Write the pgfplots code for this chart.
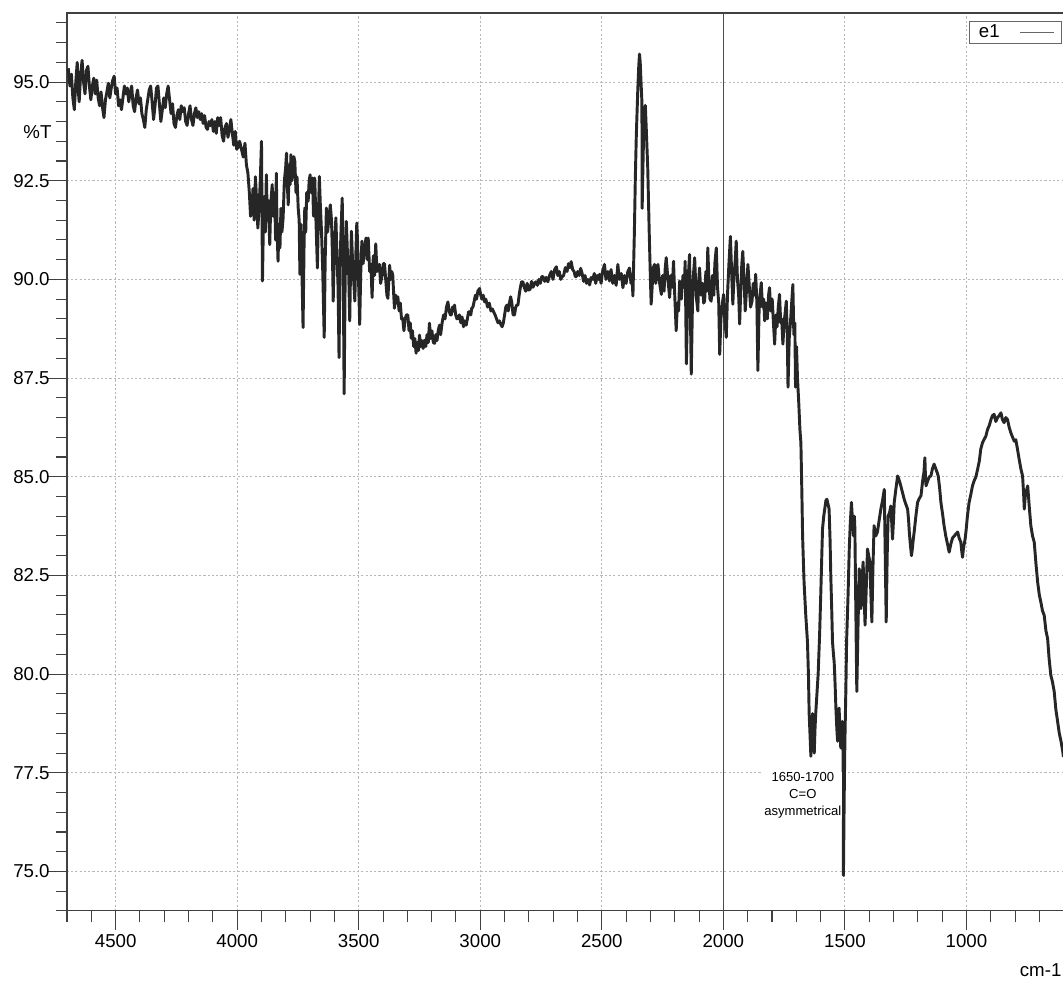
\documentclass[border=0pt]{standalone}
\usepackage{fontspec}
\setmainfont{Liberation Sans}
\usepackage{pgfplots}
\usepackage{pgfplotstable}
\pgfplotsset{compat=1.18}
\usetikzlibrary{calc}

\pgfplotstableread{
x y
4695 95.35
4688 94.90
4682 95.20
4676 94.60
4670 94.30
4664 95.00
4658 95.50
4654 94.80
4650 94.50
4644 95.20
4638 95.55
4632 95.00
4626 94.70
4620 95.30
4614 95.40
4608 94.90
4602 94.55
4596 94.90
4590 95.10
4584 94.70
4578 95.05
4572 94.60
4566 94.40
4560 94.75
4554 94.35
4548 94.10
4542 94.55
4536 94.75
4530 94.97
4524 94.60
4518 94.85
4512 95.05
4506 95.15
4500 94.70
4494 94.85
4488 94.40
4482 94.55
4476 94.30
4470 94.60
4464 94.90
4458 94.70
4452 94.85
4446 94.50
4440 94.75
4434 94.90
4428 94.40
4422 94.25
4416 94.60
4410 94.80
4404 94.45
4398 94.60
4392 94.20
4386 94.05
4380 93.85
4374 94.30
4368 94.55
4362 94.80
4356 94.90
4350 94.50
4344 94.05
4338 94.40
4332 94.85
4326 94.90
4320 94.45
4314 94.00
4308 94.30
4302 94.60
4296 94.35
4290 94.70
4284 94.90
4278 94.55
4272 94.20
4266 94.45
4260 93.95
4254 93.85
4248 94.15
4242 94.30
4236 94.05
4230 94.40
4224 94.25
4218 94.35
4212 94.00
4206 93.90
4200 94.20
4194 94.40
4188 94.05
4182 93.90
4176 94.20
4170 94.35
4164 94.10
4158 94.25
4152 94.05
4146 94.20
4140 93.95
4134 94.15
4128 93.85
4122 93.80
4116 94.00
4110 93.90
4104 94.05
4098 93.75
4092 94.00
4086 93.70
4080 94.10
4074 93.90
4068 94.10
4062 93.65
4056 93.50
4050 93.85
4044 93.95
4038 93.60
4032 93.80
4026 94.05
4020 93.70
4014 93.40
4008 93.75
4002 93.30
3996 93.35
3990 93.50
3975 93.10
3968 93.45
3962 92.90
3956 92.70
3950 92.20
3945 91.60
3940 91.70
3935 92.30
3930 91.50
3925 92.60
3920 92.00
3915 91.30
3910 91.80
3905 92.50
3900 93.50
3896 89.96
3892 91.50
3888 92.10
3884 91.20
3880 92.65
3876 91.50
3872 92.00
3866 90.88
3862 91.90
3856 92.40
3852 91.60
3846 92.20
3842 91.00
3839 92.69
3836 91.30
3832 90.46
3828 91.40
3824 90.80
3820 91.80
3816 91.20
3811 91.56
3806 92.50
3801 92.80
3797 93.20
3793 92.30
3790 91.89
3786 92.90
3782 92.40
3779 93.16
3775 92.50
3770 92.80
3767 93.11
3763 93.00
3758 92.20
3754 92.60
3749 91.81
3745 91.50
3742 90.13
3738 91.40
3734 90.30
3729 88.78
3725 90.80
3722 91.81
3718 91.20
3714 92.20
3708 91.98
3704 92.50
3700 92.65
3695 92.20
3690 92.57
3686 91.60
3681 92.57
3676 91.50
3670 90.29
3666 91.60
3662 92.61
3658 91.90
3653 91.20
3648 90.20
3642 88.53
3638 90.50
3633 91.81
3628 91.20
3622 91.60
3617 91.89
3612 91.50
3608 90.60
3605 89.45
3600 90.80
3594 91.56
3590 90.70
3585 89.80
3581 88.02
3577 90.40
3573 91.20
3568 92.06
3564 90.50
3560 87.10
3556 89.90
3551 91.47
3546 90.60
3541 90.10
3537 88.95
3533 90.50
3530 91.22
3525 90.40
3520 89.90
3516 89.45
3512 90.60
3508 91.43
3505 91.00
3500 89.80
3496 88.86
3492 90.10
3487 90.97
3482 90.40
3476 90.80
3470 91.05
3465 90.50
3461 91.05
3455 90.20
3450 90.38
3445 89.54
3440 90.60
3435 90.10
3430 90.90
3425 90.20
3415 90.38
3410 89.90
3404 90.10
3399 90.40
3394 90.40
3389 90.00
3384 89.60
3380 89.52
3376 90.00
3373 90.36
3368 90.00
3364 90.20
3360 90.11
3356 89.60
3353 89.27
3348 89.60
3343 89.40
3339 89.56
3334 89.20
3329 89.40
3324 89.00
3319 89.01
3314 88.70
3309 89.00
3304 89.10
3298 89.10
3293 88.70
3288 88.90
3284 88.51
3279 88.70
3274 88.30
3269 88.50
3264 88.13
3259 88.40
3254 88.20
3250 88.59
3245 88.30
3240 88.45
3235 88.25
3229 88.46
3224 88.30
3219 88.60
3214 88.40
3209 88.89
3204 88.50
3199 88.70
3193 88.40
3188 88.38
3183 88.60
3178 88.45
3173 88.70
3168 88.84
3163 88.60
3157 88.90
3151 89.10
3145 89.00
3139 89.30
3133 89.43
3128 89.20
3123 89.10
3119 89.10
3114 89.30
3110 89.20
3106 89.35
3101 89.10
3096 89.00
3092 89.01
3086 89.10
3080 88.90
3075 89.05
3069 88.80
3064 88.95
3058 88.84
3053 89.00
3048 89.18
3044 89.18
3039 89.10
3035 89.27
3030 89.30
3025 89.45
3020 89.60
3015 89.50
3010 89.70
3003 89.77
2998 89.60
2993 89.50
2988 89.60
2982 89.43
2977 89.50
2970 89.30
2963 89.40
2956 89.20
2950 89.25
2945 89.18
2939 89.10
2933 89.00
2927 88.90
2921 88.95
2915 88.85
2910 88.80
2905 88.90
2900 89.10
2895 89.30
2890 89.35
2885 89.20
2880 89.40
2875 89.56
2870 89.40
2865 89.10
2859 89.10
2854 89.30
2850 89.35
2845 89.35
2840 89.60
2835 89.80
2830 89.94
2825 89.94
2819 89.80
2813 89.70
2807 89.90
2801 89.73
2795 89.75
2789 89.95
2783 89.80
2777 89.90
2771 89.94
2765 89.85
2759 90.00
2753 89.90
2747 90.07
2742 90.07
2735 89.95
2729 90.05
2722 89.94
2715 90.10
2708 90.20
2701 90.00
2694 90.25
2687 90.32
2681 90.10
2675 90.20
2669 90.00
2663 90.07
2657 90.10
2650 90.30
2643 90.20
2637 90.40
2631 90.30
2626 90.45
2620 90.25
2614 90.20
2609 90.07
2605 90.07
2599 90.20
2593 90.10
2587 90.28
2581 90.15
2575 89.95
2569 90.10
2563 89.90
2557 90.00
2550 89.86
2544 90.05
2537 90.00
2531 90.15
2525 89.90
2519 90.10
2513 90.00
2509 90.13
2503 89.90
2497 90.20
2489 90.38
2483 90.00
2475 90.20
2468 89.96
2462 90.25
2455 89.90
2448 90.10
2441 89.85
2434 90.38
2428 90.00
2420 90.15
2413 89.79
2407 90.10
2400 89.90
2393 90.20
2386 90.29
2380 89.90
2376 90.10
2372 89.58
2366 91.20
2362 92.60
2358 93.66
2352 94.80
2348 95.40
2345 95.71
2342 95.50
2338 94.90
2335 94.50
2334 91.80
2331 92.80
2327 94.00
2321 94.41
2317 93.80
2311 92.82
2305 91.20
2300 90.00
2297 89.37
2293 89.80
2288 90.30
2283 90.38
2278 89.90
2273 90.20
2269 90.38
2262 89.90
2255 89.62
2250 90.10
2244 89.70
2239 90.30
2235 90.55
2228 90.00
2221 89.54
2216 90.10
2210 89.80
2205 90.46
2200 89.60
2194 88.70
2189 89.40
2184 89.20
2180 89.96
2173 89.50
2166 90.10
2161 89.80
2157 90.46
2152 87.86
2147 89.50
2143 90.20
2139 90.63
2132 87.60
2126 89.80
2122 90.20
2118 90.55
2112 89.60
2105 89.20
2102 89.90
2098 90.29
2092 89.60
2086 89.90
2081 89.40
2077 89.45
2072 90.20
2068 89.70
2064 90.80
2059 89.90
2055 89.50
2050 89.45
2045 90.10
2039 89.60
2035 90.40
2029 90.80
2024 89.80
2019 89.40
2015 88.10
2010 89.00
2004 89.40
1999 89.62
1994 89.00
1988 88.53
1983 89.60
1977 90.40
1971 91.09
1966 90.20
1961 89.37
1956 90.10
1951 90.50
1947 90.97
1942 90.00
1937 89.60
1933 88.87
1928 89.80
1924 90.40
1920 90.71
1915 90.00
1910 89.20
1905 89.70
1899 90.38
1893 89.80
1888 89.30
1882 89.45
1877 89.90
1872 89.60
1867 90.13
1862 89.40
1858 87.69
1853 89.20
1849 89.60
1844 89.92
1839 89.30
1834 89.50
1830 88.95
1825 89.40
1819 89.00
1814 89.60
1810 89.79
1805 89.20
1799 89.50
1794 88.90
1789 88.36
1784 89.10
1779 88.80
1774 89.30
1769 89.62
1764 88.90
1760 89.00
1755 88.36
1750 88.90
1745 89.20
1741 89.45
1737 88.60
1734 87.27
1729 88.50
1724 88.90
1719 89.40
1714 89.87
1710 88.60
1706 88.90
1703 87.27
1699 88.30
1695 87.50
1690 86.90
1685 86.20
1681 85.86
1677 84.60
1674 83.50
1671 82.90
1668 82.33
1661 81.50
1654 80.82
1650 80.00
1647 79.00
1643 78.40
1640 77.92
1637 78.50
1633 79.00
1629 78.40
1626 78.00
1623 78.60
1620 79.00
1615 79.50
1610 80.00
1604 81.00
1599 82.08
1595 83.00
1592 83.68
1587 84.00
1583 84.18
1578 84.40
1574 84.43
1569 84.30
1565 84.18
1561 83.40
1558 82.50
1554 81.60
1551 80.82
1547 80.50
1544 80.30
1540 79.70
1537 79.14
1533 78.60
1530 78.30
1527 78.70
1524 79.14
1520 78.60
1517 78.13
1513 78.40
1510 78.80
1508 78.20
1506 74.90
1503 76.80
1500 78.30
1496 79.60
1493 80.82
1487 82.00
1482 83.17
1478 83.80
1473 84.35
1468 83.80
1464 83.50
1461 84.00
1459 83.70
1451 79.56
1446 81.20
1441 82.67
1437 82.00
1434 81.66
1430 82.30
1425 82.84
1421 82.00
1417 81.24
1412 82.20
1407 83.17
1402 83.00
1397 82.84
1393 82.00
1389 81.32
1385 82.60
1380 83.76
1373 83.50
1366 83.60
1359 83.90
1352 84.18
1345 84.40
1338 84.68
1334 83.00
1330 81.32
1326 83.00
1322 84.00
1316 84.10
1311 84.26
1307 83.80
1304 83.42
1300 83.90
1297 84.35
1290 84.70
1283 85.02
1276 84.90
1270 84.77
1263 84.60
1256 84.43
1249 84.30
1242 84.18
1238 83.90
1235 83.60
1231 83.30
1226 83.00
1222 83.20
1219 83.40
1215 83.60
1208 84.00
1201 84.35
1194 84.45
1187 84.52
1180 84.90
1175 85.10
1171 85.48
1168 84.90
1166 84.77
1159 84.90
1153 85.00
1146 85.02
1140 85.20
1133 85.32
1126 85.20
1120 85.10
1116 85.02
1110 84.70
1105 84.35
1098 84.05
1092 83.76
1085 83.50
1078 83.30
1071 83.09
1064 83.30
1057 83.45
1050 83.50
1043 83.55
1036 83.60
1030 83.45
1023 83.34
1019 83.10
1016 82.96
1012 83.20
1006 83.40
1002 83.60
996 84.00
989 84.35
982 84.55
975 84.77
968 84.90
961 85.00
954 85.19
947 85.40
941 85.70
934 85.86
927 85.95
920 86.03
913 86.20
906 86.30
899 86.45
893 86.55
886 86.58
879 86.40
872 86.50
865 86.55
858 86.62
852 86.45
845 86.37
838 86.50
831 86.45
824 86.25
817 86.11
810 86.00
803 85.90
797 85.94
790 85.70
783 85.44
776 85.20
769 85.02
765 84.60
762 84.18
758 84.50
755 84.60
748 84.77
741 84.20
735 83.76
728 83.50
721 83.34
714 82.80
707 82.33
700 82.00
694 81.83
687 81.60
680 81.49
673 81.10
666 80.90
660 80.40
653 79.98
646 79.80
639 79.56
632 79.10
625 78.80
618 78.50
611 78.30
604 78.05
601 77.90
}\spectrum

\begin{document}
\begin{tikzpicture}
\begin{axis}[
  name=ax,
  scale only axis,
  width=747pt, height=673pt,
  xmin=600, xmax=4700, x dir=reverse,
  ymin=74, ymax=96.75,
  xtick={1000,1500,2000,2500,3000,3500,4000,4500},
  ytick={75,77.5,80,82.5,85,87.5,90,92.5,95},
  minor xtick={600,700,800,900,1100,1200,1300,1400,1600,1700,1800,1900,2100,2200,2300,2400,2600,2700,2800,2900,3100,3200,3300,3400,3600,3700,3800,3900,4100,4200,4300,4400,4600,4700},
  minor ytick={74,74.5,75.5,76,76.5,77,78,78.5,79,79.5,80.5,81,81.5,82,83,83.5,84,84.5,85.5,86,86.5,87,88,88.5,89,89.5,90.5,91,91.5,92,93,93.5,94,94.5,95.5,96,96.5},
  tick pos=left,
  tick align=outside,
  major tick length=14pt, minor tick length=8.5pt,
  grid=major,
  major grid style={black!28, dash pattern=on 1.6pt off 1.6pt, line width=0.6pt},
  axis line style={black!75, line width=0.8pt},
  tick style={black!75, line width=0.8pt},
  ticklabel style={font=\fontsize{14}{16}\selectfont},
  /pgf/number format/assume math mode=true,
  xticklabel style={/pgf/number format/set thousands separator={}},
  yticklabel style={xshift=4.5pt, /pgf/number format/.cd, fixed, fixed zerofill, precision=1},
  legend plot pos=right,
  legend cell align=left,
  legend image code/.code={\draw[black!60, line width=0.6pt] (0pt,0pt) -- (25.5pt,0pt);},
  legend style={at={(rel axis cs:0.998,0.991)}, anchor=north east,
    draw=black!60, line width=0.6pt, font=\fontsize{14}{16}\selectfont,
    inner xsep=5pt, inner ysep=0.5pt, nodes={inner sep=2pt},
    /tikz/every odd column/.append style={column sep=13pt}},
]
\addplot[black!70, line width=0.7pt, forget plot] coordinates {(2000,74) (2000,96.75)};
\addplot[black!85, line width=2.2pt, line join=round] table[x=x, y=y] {\spectrum};
\addlegendentry{e1}
\node[fill=white, inner sep=0.8pt, align=center, font=\fontsize{9.8}{12.4}\selectfont] at (axis cs:1673,76.93) {1650-1700\\C=O\\asymmetrical};
\coordinate (pT) at (rel axis cs:0,0.867);
\end{axis}
\node[anchor=east, font=\fontsize{14}{16}\selectfont, inner sep=0pt] at ($(pT)+(-11.5pt,0)$) {\%T};
\node[anchor=east, font=\fontsize{14}{16}\selectfont, inner sep=0pt] at ($(ax.south east)+(-1.5pt,-44.6pt)$) {cm-1};
\pgfresetboundingbox
\path[use as bounding box] ($(ax.south west)+(-50.25pt,-53.6pt)$) rectangle ($(ax.north east)+(-0.5pt,9.75pt)$);
\end{tikzpicture}
\end{document}
